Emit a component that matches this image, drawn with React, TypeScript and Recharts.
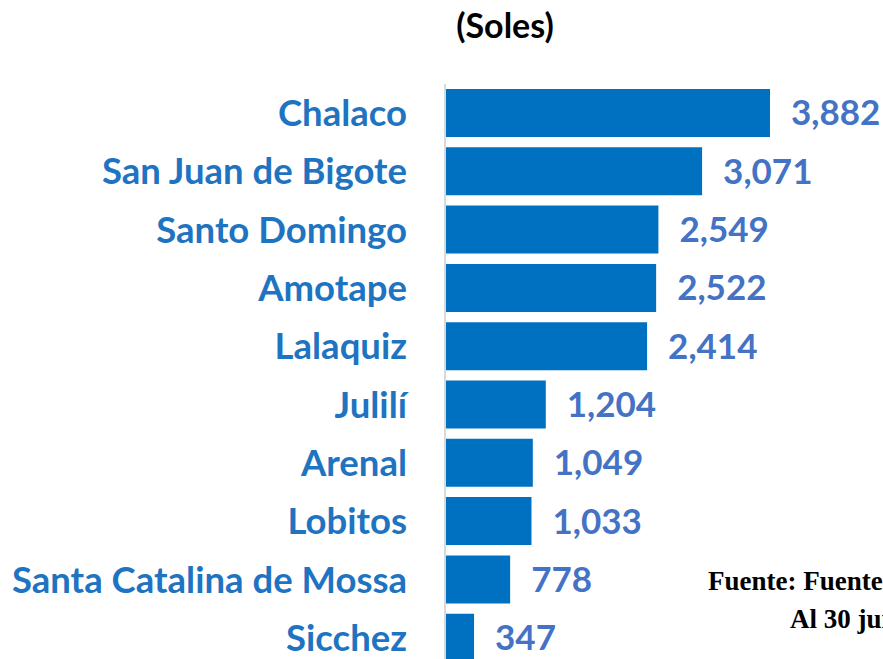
import React from "react";
import { BarChart, Bar, XAxis, YAxis, LabelList } from "recharts";

const categories = [
  "Chalaco",
  "San Juan de Bigote",
  "Santo Domingo",
  "Amotape",
  "Lalaquiz",
  "Julilí",
  "Arenal",
  "Lobitos",
  "Santa Catalina de Mossa",
  "Sicchez",
];
const values = [3882, 3071, 2549, 2522, 2414, 1204, 1049, 1033, 778, 347];
const titleText = "(Soles)";
const footerLine1 = "Fuente: Fuente";
const footerLine2 = "Al 30 jun";

const data = categories.map((c, i) => ({ name: c, value: values[i] }));

const fmt = (v: number) => v.toLocaleString("en-US");

export default function App() {
  return (
    <div
      style={{
        position: "absolute",
        left: 0,
        top: 0,
        width: 883,
        height: 659,
        overflow: "hidden",
        background: "#fff",
      }}
    >
      <div
        style={{
          position: "absolute",
          left: 0,
          width: 1010,
          top: 5,
          textAlign: "center",
          fontFamily: "Lato",
          fontWeight: 700,
          fontSize: 34,
          color: "#000",
          lineHeight: "40px",
        }}
      >
        {titleText}
      </div>
      <BarChart
        layout="vertical"
        width={883}
        height={690}
        data={data}
        margin={{ top: 84, right: 0, bottom: 23, left: 0 }}
        barCategoryGap={5}
      >
        <XAxis type="number" hide domain={[0, 5232]} allowDataOverflow />
        <YAxis
          type="category"
          dataKey="name"
          width={445}
          tickLine={false}
          tickSize={0}
          tickMargin={38}
          axisLine={{ stroke: "#d9d9d9", strokeWidth: 2 }}
          tick={{
            fill: "#1f74c1",
            fontFamily: "Lato",
            fontWeight: 700,
            fontSize: 36.5,
          }}
          interval={0}
        />
        <Bar dataKey="value" fill="#0070C0" isAnimationActive={false}>
          <LabelList
            dataKey="value"
            position="right"
            offset={21}
            formatter={(v: any) => fmt(Number(v))}
            style={{
              fill: "#4472C4",
              fontFamily: "Lato",
              fontWeight: 700,
              fontSize: 35,
            }}
          />
        </Bar>
      </BarChart>
      <div
        style={{
          position: "absolute",
          left: 708,
          top: 562,
          fontFamily: "Liberation Serif",
          fontWeight: 700,
          fontSize: 27,
          color: "#000",
          whiteSpace: "nowrap",
          lineHeight: "38px",
        }}
      >
        <div>{footerLine1}</div>
        <div style={{ paddingLeft: 82 }}>{footerLine2}</div>
      </div>
    </div>
  );
}
